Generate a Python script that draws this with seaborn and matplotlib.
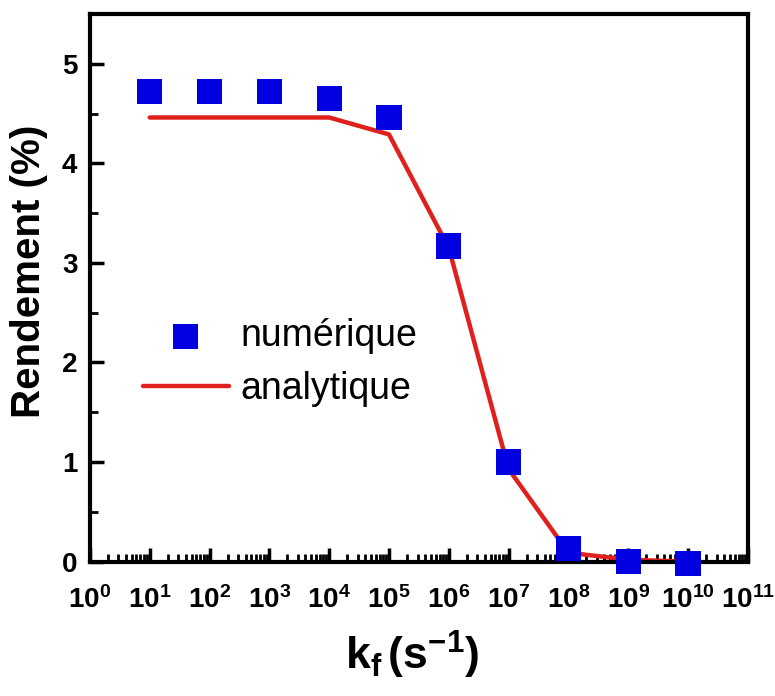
import numpy as np
import pandas as pd
import matplotlib
matplotlib.use("Agg")
import matplotlib.pyplot as plt
import matplotlib.ticker as mticker
import seaborn as sns

# ---- data ----
kf = [1e1, 1e2, 1e3, 1e4, 1e5, 1e6, 1e7, 1e8, 1e9, 1e10]
numerique = [4.72, 4.72, 4.72, 4.65, 4.46, 3.17, 1.00, 0.13, 0.00, -0.02]
analytique = [4.46, 4.46, 4.46, 4.46, 4.29, 3.15, 0.93, 0.09, 0.02, 0.00]
y_ticks = [0, 1, 2, 3, 4, 5]
x_decades = list(range(0, 12))

df = pd.DataFrame({"kf": kf, "numerique": numerique, "analytique": analytique})

sns.set_style("ticks")
plt.rcParams["font.family"] = ["Liberation Sans", "DejaVu Sans"]
plt.rcParams["mathtext.fontset"] = "custom"
plt.rcParams["mathtext.rm"] = "Liberation Sans"
plt.rcParams["mathtext.it"] = "Liberation Sans:italic"
plt.rcParams["mathtext.bf"] = "Liberation Sans:bold"
for k in ["text.color", "axes.labelcolor", "xtick.color", "ytick.color", "axes.edgecolor"]:
    plt.rcParams[k] = "black"

fig = plt.figure(figsize=(7.75, 6.96), dpi=100)
ax = fig.add_axes([0.116, 0.193, 0.849, 0.787])

sns.lineplot(data=df, x="kf", y="analytique", ax=ax, color="#e0201c",
             linewidth=3.2, label="analytique", zorder=2)
sns.scatterplot(data=df, x="kf", y="numerique", ax=ax, marker="s", s=330,
                color="#0000e0", edgecolor="none", label="numérique",
                zorder=3, clip_on=False)

ax.set_xscale("log")
ax.set_xlim(1e0, 1e11)
ax.set_ylim(0, 5.5)

ax.set_xticks([10.0 ** d for d in x_decades])
ax.xaxis.set_major_formatter(mticker.FuncFormatter(
    lambda v, p: r"$\mathbf{10^{%d}}$" % int(round(np.log10(v)))))
ax.xaxis.set_minor_locator(mticker.LogLocator(base=10, subs=np.arange(2, 10), numticks=100))
ax.xaxis.set_minor_formatter(mticker.NullFormatter())
ax.set_yticks(y_ticks)
ax.yaxis.set_minor_locator(mticker.MultipleLocator(0.5))

ax.tick_params(axis="both", which="major", direction="in", length=10, width=2.5,
               labelsize=20, pad=9, colors="black")
ax.tick_params(axis="both", which="minor", direction="in", length=6, width=2)
ax.tick_params(axis="x", which="major", pad=18)
for lab in ax.get_yticklabels():
    lab.set_fontweight("bold")

for sp in ax.spines.values():
    sp.set_linewidth(3)
    sp.set_color("black")

ax.set_xlabel(r"$\mathbf{k_f\,(s^{-1})}$", fontsize=32)
ax.xaxis.set_label_coords(0.49, -0.122)
ax.set_ylabel("Rendement (%)", fontsize=29, fontweight="bold")
ax.yaxis.set_label_coords(-0.064, 0.53)

handles, labels = ax.get_legend_handles_labels()
order = [labels.index("numérique"), labels.index("analytique")]
leg = ax.legend([handles[i] for i in order], [labels[i] for i in order],
                loc="center left", bbox_to_anchor=(0.08, 0.363), frameon=False,
                fontsize=27, handlelength=2.3, handletextpad=0.3,
                labelspacing=0.45, borderaxespad=0, borderpad=0, markerscale=1.0)

fig.savefig("out.png", dpi=100)
